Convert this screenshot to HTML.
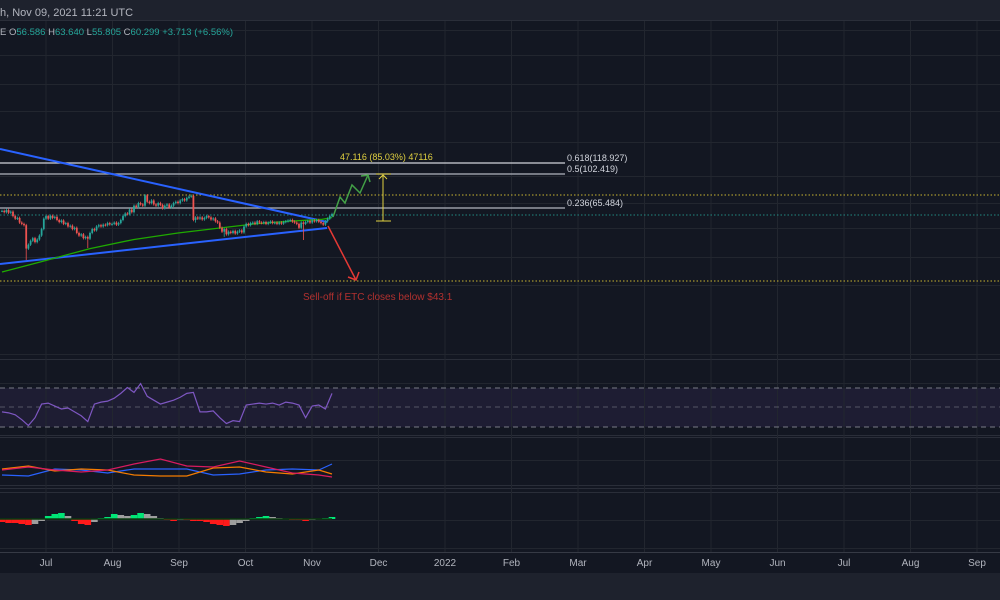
<!DOCTYPE html>
<html><head><meta charset="utf-8"><style>
html,body{margin:0;padding:0;background:#131722;width:1000px;height:600px;overflow:hidden}
svg{display:block;font-family:"Liberation Sans",sans-serif}
</style></head><body>
<svg id="c" width="1000" height="600" viewBox="0 0 1000 600">
<rect x="0" y="0" width="1000" height="600" fill="#131722"/>
<rect x="0" y="0" width="1000" height="20" fill="#1e222d"/>
<line x1="0" y1="20.5" x2="1000" y2="20.5" stroke="#2a2e39"/>
<rect x="0" y="573" width="1000" height="27" fill="#1e222d"/>
<rect x="0" y="388" width="1000" height="39" fill="#1e1d33"/>
<g id="grid"></g>
<g id="draw"></g>
<g id="candles"></g>
<g id="ind"></g>
<text x="0" y="16" fill="#b2b5be" font-size="11">h, Nov 09, 2021 11:21 UTC</text>
<text x="0" y="35" font-size="9.5"><tspan fill="#b2b5be">E  O</tspan><tspan fill="#26a69a">56.586 </tspan><tspan fill="#b2b5be">H</tspan><tspan fill="#26a69a">63.640 </tspan><tspan fill="#b2b5be">L</tspan><tspan fill="#26a69a">55.805 </tspan><tspan fill="#b2b5be">C</tspan><tspan fill="#26a69a">60.299 +3.713 (+6.56%)</tspan></text>
<g id="xaxis"></g>
</svg>
<script>
const months=["Jul","Aug","Sep","Oct","Nov","Dec","2022","Feb","Mar","Apr","May","Jun","Jul","Aug","Sep"];
const closes=[61.5,61,61.8,60.8,61.2,59.5,58.5,58.8,57,56.5,56,47,48.5,50,51,49.5,50.5,52,54.5,58.5,59.5,58.5,59.6,58.8,59.2,58,57.2,57.8,56.5,56.8,55.5,55.8,54.5,55,53,52,52.5,51,51.5,50.8,53,54.5,54,55.5,56,55.5,56.2,56,56.8,56.3,56.5,57,56.2,56.8,58,59.5,60.5,60.2,62,61,63.5,63,64.5,64,63.5,67.5,65,64.5,65.5,64,63.5,64.5,63.8,62.5,63.5,64,62.8,63.5,64.5,65,64.5,65.5,66,65.5,66.5,67,67.3,58,59,58.5,59,58.2,58.8,59.5,59,58.2,58.6,57.5,57,55,53.5,54.5,52.5,53.5,53,53.8,52.8,53.5,54,53.2,55.5,56.5,56,56.8,57,56.5,57.5,57,56.8,57.2,56.5,57,57.4,56.8,57,56.5,57,56.6,57.2,57.5,57.8,58,57.4,57,56.5,55,57,56.5,57.2,57.6,57,57.8,57.5,58,57.3,56.8,56.2,57.5,58.5,59.5,60.3];
const spikeIdx=[11,39,101,137,88];
const spikeLow=[42.6,47.2,51.5,50.3,57];
const rsi=[45,44,42,37,31,39,53,54,51,48,49,45,41,35,53,55,56,59,64,70,65,74,61,57,53,55,57,60,64,65,45,45,46,39,33,36,35,52,53,54,53,54,52,55,54,52,39,51,52,48,64];
const lineIdx=[0,12,24,36,48,60,72,84,96,108,120,132,144,150];
const dmiBlue=[15,14,21,20,17,21,21,21,15,16,20,21,20,26];
const dmiOrange=[21,24,19,21,20,15,14,14,22,23,18,16,20,16];
const dmiRed=[20,23,20,18,20,26,31,24,23,29,23,17,15,13];
const hist=[-3,-4,-4,-5,-6,-5,-2,3,5,6,3,-2,-5,-6,-3,1,2,5,4,3,4,6,5,3,1,-1,-2,-1,-1,-2,-2,-3,-5,-6,-7,-6,-4,-2,1,2,3,2,1,0.5,-0.5,-1,-2,-1,0.5,1,2];
const ma=[38,42,47,50.5,53,55,56.5,57.5,58.2,58.9];
const maIdx=[0,18,40,60,80,100,115,130,145,150];

const NS="http://www.w3.org/2000/svg";
function mk(t,a,p){const e=document.createElementNS(NS,t);for(const k in a)e.setAttribute(k,a[k]);p.appendChild(e);return e;}
const X=i=>2+i*2.2;
const Y=p=>214-(p-60.3)*2.6;
const Yrsi=v=>407-(v-50)*0.975;
const Ydmi=v=>490-v;
const Yh=v=>519-v;

const grid=document.getElementById('grid');
[30,55,84,111,142,176,203,228,257,285,354,383,460,520,548].forEach(y=>{const l=mk('line',{x1:0,x2:1000,y1:y+.5,y2:y+.5,stroke:'#22262f'},grid);});
[359,435,437,485,488,492].forEach(y=>{const l=mk('line',{x1:0,x2:1000,y1:y+.5,y2:y+.5,stroke:'#2a2e39'},grid);});
const xa=document.getElementById('xaxis');
months.forEach((m,k)=>{const x=46+k*66.5;
const l=mk('line',{x1:x,x2:x,y1:21,y2:552,stroke:'#22262f'},grid);
const t=mk('text',{x:x,y:566,fill:'#b2b5be','font-size':'10','text-anchor':'middle'},xa);t.textContent=m;});
mk('line',{x1:0,x2:1000,y1:552.5,y2:552.5,stroke:'#363a45'},xa);
[388,427].forEach(y=>{const l=mk('line',{x1:0,x2:1000,y1:y,y2:y,stroke:'#787b86','stroke-dasharray':'5,4'},grid);});
{const l=mk('line',{x1:0,x2:1000,y1:407,y2:407,stroke:'#787b86','stroke-dasharray':'5,4','stroke-opacity':'.6'},grid);}

const d=document.getElementById('draw');
function ln(a,n){const e=mk('line',a,d);return e;}
ln({x1:0,x2:1000,y1:195,y2:195,stroke:'#c8b430','stroke-dasharray':'1.5,2'},'level-dotted-yellow-upper');
ln({x1:0,x2:1000,y1:281,y2:281,stroke:'#c8b430','stroke-dasharray':'1.5,2'},'level-dotted-yellow-lower');
ln({x1:0,x2:1000,y1:215,y2:215,stroke:'#26a69a','stroke-dasharray':'1.5,2','stroke-opacity':'.8'},'last-price-line');
ln({x1:0,x2:565,y1:163,y2:163,stroke:'#d1d4dc','stroke-width':1.3},'fib-0618');
ln({x1:0,x2:565,y1:174,y2:174,stroke:'#b2b5be','stroke-width':1.3},'fib-05');
ln({x1:0,x2:565,y1:208,y2:208,stroke:'#b2b5be','stroke-width':1.3},'fib-0236');
function tx(x,y,s,c,n,sz){const t=mk('text',{x:x,y:y,fill:c,'font-size':sz||9},d);t.textContent=s;}
tx(567,161,'0.618(118.927)','#d1d4dc','fib-label-0618');
tx(567,172,'0.5(102.419)','#d1d4dc','fib-label-05');
tx(567,206,'0.236(65.484)','#d1d4dc','fib-label-0236');
tx(340,160,'47.116 (85.03%) 47116','#e0d040','measure-label');
tx(303,300,'Sell-off if ETC closes below $43.1','#b2312f','selloff-note',10);
ln({x1:0,y1:149,x2:327,y2:222,stroke:'#2962ff','stroke-width':2},'trendline-upper');
ln({x1:0,y1:264,x2:327,y2:228,stroke:'#2962ff','stroke-width':2},'trendline-lower');
ln({x1:383,y1:175,x2:383,y2:221,stroke:'#e0d040'},'measure-vertical');
ln({x1:376,y1:221,x2:391,y2:221,stroke:'#e0d040'},'measure-cap');
ln({x1:376,y1:174,x2:391,y2:174,stroke:'#e0d040'},'measure-top');
{const p=mk('polyline',{points:'379,179 383,175 387,179',fill:'none',stroke:'#e0d040'},d);}
{const p=mk('polyline',{points:'333,217 340,197 345,203 352,185 360,193 368,175',fill:'none',stroke:'#43a047','stroke-width':1.5},d);
const h=mk('polyline',{points:'361,176 368,175 370,182',fill:'none',stroke:'#43a047','stroke-width':1.5},d);}
{ln({x1:328,y1:226,x2:356,y2:280,stroke:'#e53935','stroke-width':1.5},'bearish-arrow');
const h=mk('polyline',{points:'348,277 356,280 359,272',fill:'none',stroke:'#e53935','stroke-width':1.5},d);}
{const p=mk('polyline',{points:ma.map((v,k)=>X(maIdx[k])+','+Y(v)).join(' '),fill:'none',stroke:'#1faa00','stroke-width':1.3},d);}

const cg=document.getElementById('candles');
closes.forEach((c,i)=>{const o=i?closes[i-1]:c;const up=c>=o;const col=up?'#26a69a':'#ef5350';
let lo=Math.min(o,c)-0.5;const si=spikeIdx.indexOf(i);if(si>=0)lo=spikeLow[si];
const w=mk('line',{x1:X(i),x2:X(i),y1:Y(Math.max(o,c)+0.5),y2:Y(lo),stroke:col,'stroke-width':0.8},cg);

const b=mk('rect',{x:X(i)-0.9,y:Y(Math.max(o,c)),width:1.8,height:Math.max(1,Math.abs(Y(o)-Y(c))),fill:col},cg);
});

const ig=document.getElementById('ind');
{const p=mk('polyline',{points:rsi.map((v,k)=>X(k*3)+','+Yrsi(v)).join(' '),fill:'none',stroke:'#7e57c2','stroke-width':1.2},ig);}
[[dmiBlue,'#2962ff','dmi-blue'],[dmiOrange,'#f57c00','dmi-orange'],[dmiRed,'#d81b60','dmi-red']].forEach(s=>{
const p=mk('polyline',{points:s[0].map((v,k)=>X(lineIdx[k])+','+Ydmi(v)).join(' '),fill:'none',stroke:s[1],'stroke-width':1.2},ig);});
hist.forEach((v,k)=>{const prev=k?hist[k-1]:0;let col;
if(v>=0)col=v>=prev?'#00e676':'#9e9e9e';else col=v<=prev?'#ff1a1a':'#9e9e9e';
const y=Math.min(Yh(v),519),h=Math.max(1,Math.abs(v));
const r=mk('rect',{x:X(k*3)-3.3,y:y,width:6.6,height:h,fill:col},ig);});
{const l=mk('line',{x1:0,x2:X(150),y1:519,y2:519,stroke:'#0a3a10','stroke-width':1.5},ig);}
</script>
</body></html>
